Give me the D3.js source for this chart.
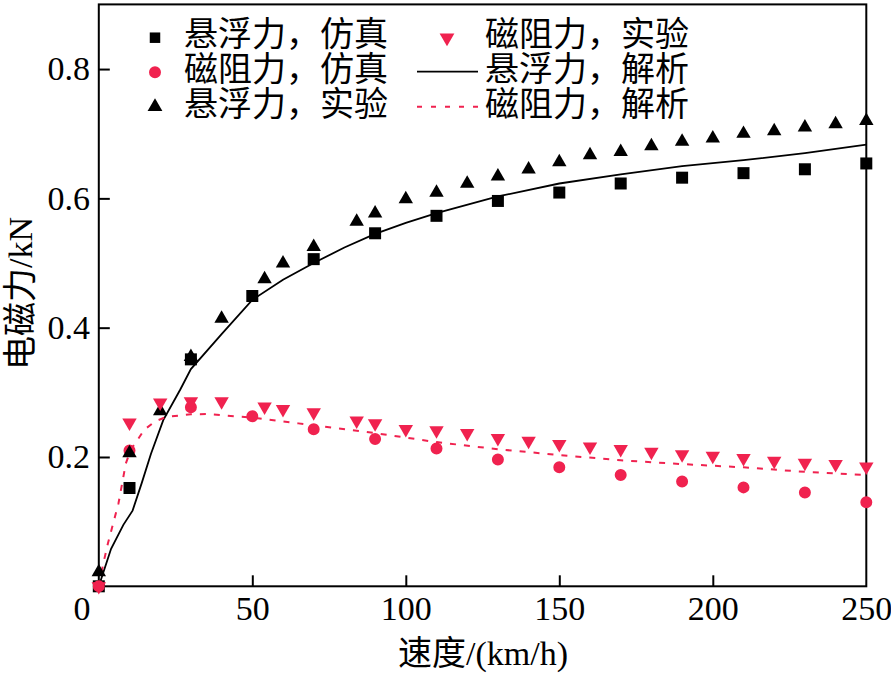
<!DOCTYPE html>
<html><head><meta charset="utf-8">
<script src="https://cdn.jsdelivr.net/npm/d3@7"></script>
<style>
html,body{margin:0;padding:0;background:#fff;}
svg text{font-family:"Liberation Serif","Noto Sans CJK SC",serif;fill:#000;}
</style></head>
<body><svg id="c" width="891" height="675"></svg>
<script>
// ---- data ----
const simX = [0, 10, 30, 50, 70, 90, 110, 130, 150, 170, 190, 210, 230, 250];
const levSim = [0, 0.152, 0.351, 0.449, 0.506, 0.546, 0.573, 0.596, 0.609, 0.623, 0.632, 0.639, 0.645, 0.654];
const dragSim = [0, 0.21, 0.277, 0.263, 0.243, 0.228, 0.213, 0.196, 0.184, 0.172, 0.162, 0.153, 0.145, 0.130];

const expX = [0, 10, 20, 30, 40, 54, 60, 70, 84, 90, 100, 110, 120, 130, 140, 150, 160, 170, 180, 190, 200, 210, 220, 230, 240, 250];
const levExp = [0.022, 0.206, 0.271, 0.355, 0.414, 0.475, 0.4996, 0.525, 0.564, 0.577, 0.599, 0.609, 0.623, 0.634, 0.645, 0.656, 0.667, 0.672, 0.681, 0.688, 0.693, 0.700, 0.704, 0.710, 0.715, 0.720];
const dragExp = [0, 0.253, 0.284, 0.286, 0.286, 0.278, 0.274, 0.269, 0.256, 0.252, 0.243, 0.241, 0.237, 0.229, 0.225, 0.220, 0.216, 0.212, 0.208, 0.204, 0.2015, 0.198, 0.194, 0.191, 0.189, 0.185];

const levAnaX = [0, 4, 8, 11, 14, 17, 21, 26.5, 30, 40, 50, 60, 70, 80, 90, 100, 110, 130, 150, 170, 190, 210, 230, 250];
const levAna = [0, 0.058, 0.095, 0.117, 0.160, 0.205, 0.257, 0.304, 0.336, 0.390, 0.443, 0.474, 0.500, 0.524, 0.545, 0.562, 0.577, 0.603, 0.623, 0.637, 0.650, 0.659, 0.670, 0.683];
const dragAnaX = [0, 1.5, 3, 6.4, 8.8, 10.5, 12.3, 14.8, 18.3, 22, 30, 35, 44, 50, 65, 90, 110, 130, 150, 170, 190, 210, 230, 250];
const dragAna = [0, 0.036, 0.067, 0.128, 0.19, 0.212, 0.224, 0.242, 0.255, 0.262, 0.266, 0.2665, 0.263, 0.261, 0.252, 0.237, 0.223, 0.212, 0.203, 0.195, 0.189, 0.184, 0.177, 0.172];

const xTicks = [50, 100, 150, 200, 250];
const yTicks = [0.2, 0.4, 0.6, 0.8];
const legendLabels = ["悬浮力，仿真", "磁阻力，仿真", "悬浮力，实验", "磁阻力，实验", "悬浮力，解析", "磁阻力，解析"];
const xLabel = "速度/(km/h)";
const yLabel = "电磁力/kN";

const PINK = "#f0224f";

// ---- chart ----
const svg = d3.select("#c");
const x = d3.scaleLinear().domain([0, 250]).range([98.8, 866.3]);
const y = d3.scaleLinear().domain([0, 0.9]).range([586.3, 4.4]);

// axes
const xAxis = d3.axisBottom(x).tickValues(xTicks).tickSize(-11).tickPadding(9.6).tickFormat(d3.format("d"));
const gx = svg.append("g").attr("transform", `translate(0,${y(0)})`).call(xAxis);
const yAxis = d3.axisLeft(y).tickValues(yTicks).tickSize(-11).tickPadding(8.8).tickFormat(d3.format(".1f"));
const gy = svg.append("g").attr("transform", `translate(${x(0)},0)`).call(yAxis);
[gx, gy].forEach(g => {
  g.select(".domain").remove();
  g.selectAll(".tick line").attr("stroke", "#000").attr("stroke-width", 2);
  g.selectAll(".tick text").attr("font-size", 34).style("font-family", '"Liberation Serif",serif');
});
gx.selectAll(".tick").filter(d => d === 250).select("line").remove();
// origin label
svg.append("text").attr("x", 82).attr("y", 620).attr("text-anchor", "middle")
  .attr("font-size", 34).text("0");

// frame
svg.append("rect").attr("x", x(0)).attr("y", y(0.9)).attr("width", x(250) - x(0)).attr("height", y(0) - y(0.9))
  .attr("fill", "none").attr("stroke", "#000").attr("stroke-width", 2);

// axis labels
svg.append("text").attr("x", 483).attr("y", 665).attr("text-anchor", "middle").attr("font-size", 34).text(xLabel);
svg.append("text").attr("transform", "translate(32,293.5) rotate(-90)").attr("text-anchor", "middle")
  .attr("font-size", 34).text(yLabel);

// lines
const line = d3.line().x(d => x(d[0])).y(d => y(d[1]));
svg.append("path").datum(levAnaX.map((v, i) => [v, levAna[i]])).attr("d", line)
  .attr("fill", "none").attr("stroke", "#000").attr("stroke-width", 1.8);
svg.append("path").datum(dragAnaX.map((v, i) => [v, dragAna[i]])).attr("d", line)
  .attr("fill", "none").attr("stroke", PINK).attr("stroke-width", 2).attr("stroke-dasharray", "6,8");

// markers
const sq = d3.symbol(d3.symbolSquare, 144)();
const ci = d3.symbol(d3.symbolCircle, 113)();
const tr = d3.symbol(d3.symbolTriangle, 90)();
function pts(xs, ys, path, fill, rot) {
  svg.append("g").selectAll("path").data(xs.map((v, i) => [v, ys[i]])).join("path")
    .attr("d", path).attr("fill", fill)
    .attr("transform", d => `translate(${x(d[0])},${y(d[1])})` + (rot ? " rotate(180)" : ""));
}
pts(simX, levSim, sq, "#000", false);
pts(simX, dragSim, ci, PINK, false);
pts(expX, levExp, tr, "#000", false);
pts(expX, dragExp, tr, PINK, true);

// legend
const lg = svg.append("g");
const rows = [37.7, 72.3, 106.7];
const c1 = 155, c2 = 447;
const sqL = d3.symbol(d3.symbolSquare, 110)();
const ciL = d3.symbol(d3.symbolCircle, 113)();
const trL = d3.symbol(d3.symbolTriangle, 95)();
lg.append("path").attr("d", sqL).attr("fill", "#000").attr("transform", `translate(${c1},${rows[0]})`);
lg.append("path").attr("d", ciL).attr("fill", PINK).attr("transform", `translate(${c1},${rows[1]})`);
lg.append("path").attr("d", trL).attr("fill", "#000").attr("transform", `translate(${c1},${rows[2]})`);
lg.append("path").attr("d", trL).attr("fill", PINK).attr("transform", `translate(${c2},${rows[0]}) rotate(180)`);
lg.append("line").attr("x1", 417).attr("x2", 478).attr("y1", 71.7).attr("y2", 71.7).attr("stroke", "#000").attr("stroke-width", 1.8);
lg.append("line").attr("x1", 417).attr("x2", 478).attr("y1", 106.7).attr("y2", 106.7).attr("stroke", PINK).attr("stroke-width", 2).attr("stroke-dasharray", "5,9");
const textRows = [33.5, 68.3, 103.3];
legendLabels.forEach((t, i) => {
  const col = i < 3 ? 184 : 485;
  lg.append("text").attr("x", col).attr("y", textRows[i % 3]).attr("dy", "0.36em")
    .attr("font-size", 34).text(t);
});
</script></body></html>
